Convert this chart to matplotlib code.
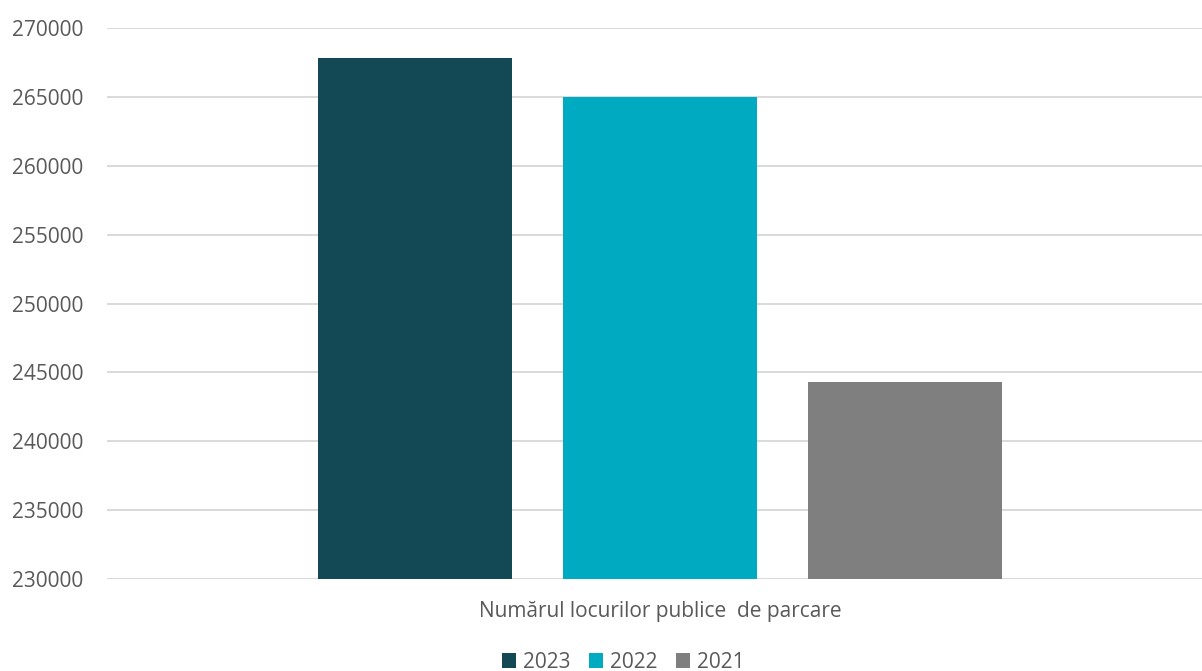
import matplotlib.pyplot as plt

category = 'Numărul locurilor publice  de parcare'
years = ['2023', '2022', '2021']
values = [267800, 265000, 244300]
colors = ['#134855', '#00aac0', '#7f7f7f']

plt.rcParams['font.family'] = ['Open Sans', 'DejaVu Sans']

fig = plt.figure(figsize=(12.02, 6.71), dpi=100)
ax = fig.add_axes([107 / 1202, 92 / 671, 1095 / 1202, 551 / 671])

for i, (y, v, c) in enumerate(zip(years, values, colors)):
    ax.bar(i - 1, v - 230000, bottom=230000, width=0.792, color=c, label=y, zorder=3)

ax.set_ylim(230000, 270000)
ax.set_xlim(-2.257, 2.212)
ax.set_yticks(range(230000, 270001, 5000))
ax.yaxis.grid(True, color='#d9d9d9', linewidth=1.4, zorder=0)
ax.set_xticks([0])
ax.set_xticklabels([category])
ax.tick_params(axis='both', length=0, colors='#595959', labelsize=15)
ax.tick_params(axis='y', pad=17)
ax.tick_params(axis='x', pad=16)
for s in ax.spines.values():
    s.set_visible(False)

fig.legend(loc='center', bbox_to_anchor=(623 / 1202, 9 / 671), ncol=3, frameon=False,
           handlelength=0.7, handleheight=0.7, handletextpad=0.3, columnspacing=0.9,
           fontsize=15, labelcolor='#595959', borderaxespad=0)

fig.savefig('out.png', dpi=100)
